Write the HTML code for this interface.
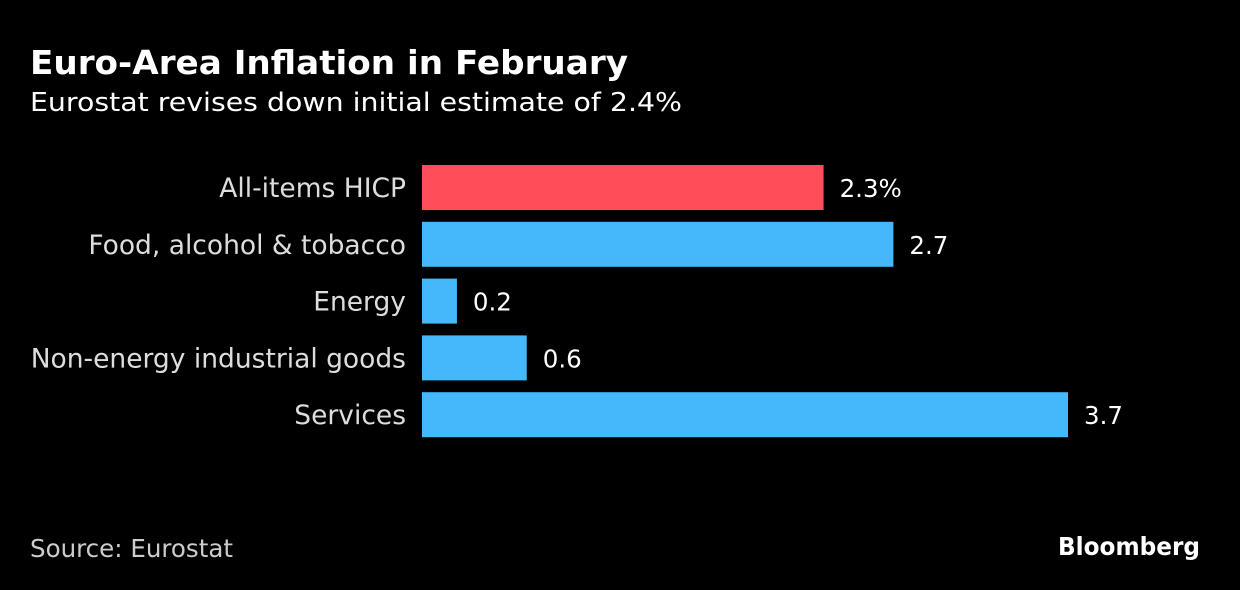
<!DOCTYPE html>
<html><head><meta charset="utf-8"><style>
html,body{margin:0;padding:0;background:#000;}
svg{display:block;}
text{font-family:"DejaVu Sans","Liberation Sans",sans-serif;}
</style></head><body>
<svg id="chart" width="1240" height="590" viewBox="0 0 1240 590" xmlns="http://www.w3.org/2000/svg">
<rect width="1240" height="590" fill="#000"/>
<text x="30" y="74" fill="#fff" font-size="33" font-weight="bold" textLength="598" lengthAdjust="spacingAndGlyphs">Euro-Area Inflation in February</text>
<text x="30" y="111" fill="#fff" font-size="26" textLength="652" lengthAdjust="spacingAndGlyphs">Eurostat revises down initial estimate of 2.4%</text>
<g id="bars"></g>
<text x="30" y="557" fill="#ccc" font-size="25" textLength="203" lengthAdjust="spacingAndGlyphs">Source: Eurostat</text>
<text x="1200" y="555" fill="#fff" font-size="25" font-weight="bold" text-anchor="end" textLength="142" lengthAdjust="spacingAndGlyphs">Bloomberg</text>
</svg>
<script>
const categories = ["All-items HICP","Food, alcohol & tobacco","Energy","Non-energy industrial goods","Services"];
const values = [2.3,2.7,0.2,0.6,3.7];
const valueLabels = ["2.3%","2.7","0.2","0.6","3.7"];
const highlight = [true,false,false,false,false];

const x0 = 422, scale = 646/3.7;
const xScale = v => x0 + v*scale;
const rowTop = 165, pitch = 56.8, barH = 45;
const yScale = i => rowTop + i*pitch;
const g = document.getElementById('bars');
const NS = "http://www.w3.org/2000/svg";
categories.forEach((c,i)=>{
  const y = yScale(i);
  const r = document.createElementNS(NS,'rect');
  
  
  r.setAttribute('x',x0); r.setAttribute('y',y);
  r.setAttribute('width',xScale(values[i])-x0); r.setAttribute('height',barH);
  r.setAttribute('fill',highlight[i]?'#ff4e5a':'#44b8fb');
  g.appendChild(r);
  const l = document.createElementNS(NS,'text');
  
  
  l.setAttribute('x',406); l.setAttribute('y',y+32);
  l.setAttribute('text-anchor','end'); l.setAttribute('fill','#ddd');
  l.setAttribute('font-size','26.5');
  l.textContent = c;
  g.appendChild(l);
  const v = document.createElementNS(NS,'text');
  
  
  v.setAttribute('x',xScale(values[i])+16); v.setAttribute('y',y+32);
  v.setAttribute('fill','#fff'); v.setAttribute('font-size','24.5');
  v.textContent = valueLabels[i];
  g.appendChild(v);
});
</script>
</body></html>
